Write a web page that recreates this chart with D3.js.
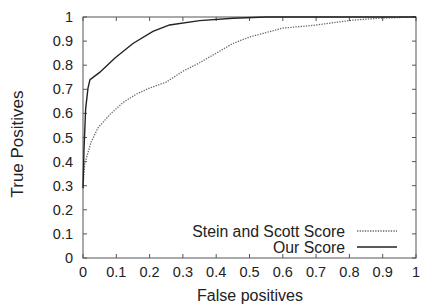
<!DOCTYPE html>
<html lang="en">
<head>
<meta charset="UTF-8">
<title>ROC curves</title>
<style>
    body { margin: 0; background: #fff; font-family: "Liberation Sans", Arial, sans-serif; }
    svg text { fill: #222; }
    .tick-label { font-size: 14.5px; }
    .axis-title { font-size: 16px; }
    .legend-text { font-size: 15.8px; }
</style>
</head>
<body>
<div id="chart"></div>
<script src="https://d3js.org/d3.v7.min.js"></script>
<script>
    const xTicks = [0, 0.1, 0.2, 0.3, 0.4, 0.5, 0.6, 0.7, 0.8, 0.9, 1];
    const yTicks = [0, 0.1, 0.2, 0.3, 0.4, 0.5, 0.6, 0.7, 0.8, 0.9, 1];

    // Our Score (solid)
    const ourX = [0, 0.003, 0.008, 0.015, 0.021, 0.05, 0.096, 0.15, 0.21, 0.26, 0.35, 0.45, 0.55, 0.7, 1];
    const ourY = [0.29, 0.45, 0.62, 0.705, 0.74, 0.77, 0.83, 0.89, 0.94, 0.967, 0.985, 0.995, 1, 1, 1];

    // Stein and Scott Score (dotted)
    const steinX = [0, 0.005, 0.024, 0.045, 0.084, 0.12, 0.16, 0.2, 0.25, 0.3, 0.35, 0.4, 0.45, 0.5, 0.6, 0.69, 0.81, 0.89, 1];
    const steinY = [0.29, 0.39, 0.48, 0.54, 0.6, 0.645, 0.68, 0.705, 0.73, 0.775, 0.81, 0.85, 0.89, 0.917, 0.954, 0.965, 0.987, 0.995, 1];

    const width = 423, height = 305;
    const plot = { left: 83, right: 416, top: 17, bottom: 258 };

    const svg = d3.select('#chart').append('svg')
        .attr('width', width)
        .attr('height', height);

    const x = d3.scaleLinear().domain([0, 1]).range([plot.left, plot.right]);
    const y = d3.scaleLinear().domain([0, 1]).range([plot.bottom, plot.top]);

    const tickLen = 4;
    const axisColor = '#555';

    // border
    svg.append('rect')
        .attr('x', plot.left)
        .attr('y', plot.top)
        .attr('width', plot.right - plot.left)
        .attr('height', plot.bottom - plot.top)
        .attr('fill', 'none')
        .attr('stroke', axisColor)
        .attr('stroke-width', 1);

    // inward ticks on all four sides
    xTicks.forEach(t => {
        svg.append('line').attr('x1', x(t)).attr('x2', x(t))
            .attr('y1', plot.bottom).attr('y2', plot.bottom - tickLen)
            .attr('stroke', axisColor);
        svg.append('line').attr('x1', x(t)).attr('x2', x(t))
            .attr('y1', plot.top).attr('y2', plot.top + tickLen)
            .attr('stroke', axisColor);
        svg.append('text').attr('class', 'tick-label')
            .attr('x', x(t)).attr('y', 277)
            .attr('text-anchor', 'middle')
            .text(d3.format('~g')(t));
    });
    yTicks.forEach(t => {
        svg.append('line').attr('x1', plot.left).attr('x2', plot.left + tickLen)
            .attr('y1', y(t)).attr('y2', y(t))
            .attr('stroke', axisColor);
        svg.append('line').attr('x1', plot.right).attr('x2', plot.right - tickLen)
            .attr('y1', y(t)).attr('y2', y(t))
            .attr('stroke', axisColor);
        svg.append('text').attr('class', 'tick-label')
            .attr('x', 73).attr('y', y(t))
            .attr('dy', '0.35em')
            .attr('text-anchor', 'end')
            .text(d3.format('~g')(t));
    });

    // axis titles
    svg.append('text').attr('class', 'axis-title')
        .attr('x', 250).attr('y', 301)
        .attr('text-anchor', 'middle')
        .text('False positives');
    svg.append('text').attr('class', 'axis-title')
        .attr('transform', 'translate(23, 144) rotate(-90)')
        .attr('text-anchor', 'middle')
        .style('font-size', '17px')
        .text('True Positives');

    const line = d3.line().x(d => x(d[0])).y(d => y(d[1]));
    const steinData = steinX.map((v, i) => [v, steinY[i]]);
    const ourData = ourX.map((v, i) => [v, ourY[i]]);

    svg.append('path').datum(steinData)
        .attr('d', line)
        .attr('fill', 'none')
        .attr('stroke', '#666')
        .attr('stroke-width', 1.3)
        .attr('stroke-dasharray', '1.3,1.3');

    svg.append('path').datum(ourData)
        .attr('d', line)
        .attr('fill', 'none')
        .attr('stroke', '#222')
        .attr('stroke-width', 1.4);

    // legend
    const legend = [
        { label: 'Stein and Scott Score', dash: '1.3,1.3', color: '#666', yPos: 231 },
        { label: 'Our Score', dash: null, color: '#222', yPos: 247 }
    ];
    legend.forEach(l => {
        svg.append('text').attr('class', 'legend-text')
            .attr('x', 345).attr('y', l.yPos)
            .attr('dy', '0.35em')
            .attr('text-anchor', 'end')
            .text(l.label);
        svg.append('line')
            .attr('x1', 357).attr('x2', 397)
            .attr('y1', l.yPos).attr('y2', l.yPos)
            .attr('stroke', l.color)
            .attr('stroke-width', 1.3)
            .attr('stroke-dasharray', l.dash);
    });
</script>
</body>
</html>
